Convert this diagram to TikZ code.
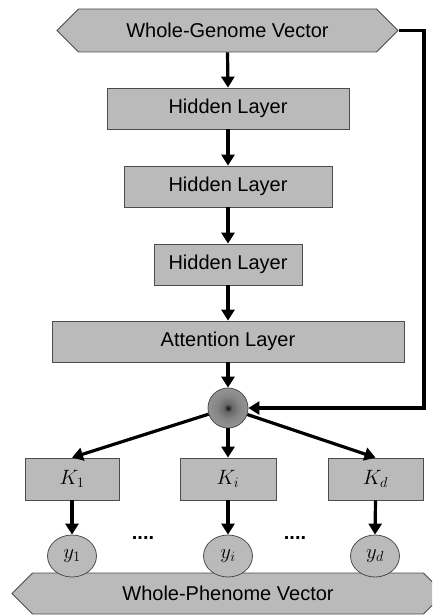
\documentclass[tikz,border=0pt]{standalone}
\usepackage{fontspec}
\setmainfont{Liberation Sans}
\usetikzlibrary{shapes.symbols,shapes.geometric,arrows.meta}
\pgfdeclareradialshading{ballshade}{\pgfpoint{0bp}{0bp}}{%
  color(0bp)=(black!95); color(5bp)=(black!60); color(14bp)=(black!48); color(25bp)=(black!42); color(50bp)=(black!42)}
\begin{document}
\begin{tikzpicture}[x=1pt,y=-1pt,
  box/.style={draw=black!70,line width=0.8pt,fill=black!27,rectangle,inner sep=0pt,
    font=\fontsize{20}{24}\selectfont,minimum height=41pt},
  kbox/.style={draw=black!70,line width=0.8pt,fill=black!27,rectangle,inner sep=0pt,
    font=\fontsize{20.74}{24}\selectfont,minimum height=42pt},
  yell/.style={draw=black!70,line width=0.8pt,fill=black!27,ellipse,inner sep=0pt,
    font=\fontsize{20.74}{24}\selectfont,minimum width=49pt,minimum height=42pt},
  sig/.style={draw=black!70,line width=0.8pt,fill=black!27,signal,signal to=west and east,
    signal pointer angle=90,inner sep=0pt,font=\fontsize{20}{24}\selectfont},
  arr/.style={line width=3.2pt,-{Triangle[length=11pt,width=13pt]}},
  dots/.style={font=\fontsize{20}{24}\selectfont\bfseries}
]
\useasboundingbox (0,0) rectangle (432,615);
\begin{scope}
\clip (0,0) rectangle (432,615);
\node[sig,minimum width=341pt,minimum height=43pt] (genome) at (227.5,30.5) {Whole-Genome Vector};
\node[box,minimum width=242pt] (h1) at (228,108.5) {Hidden Layer};
\node[box,minimum width=208pt] (h2) at (228,186.5) {Hidden Layer};
\node[box,minimum width=148pt] (h3) at (228,264.5) {Hidden Layer};
\node[box,minimum width=352pt] (att) at (228,341.5) {Attention Layer};
\node[circle,draw=black!70,line width=0.8pt,minimum size=40pt,inner sep=0pt,
  shading=ballshade] (c) at (228,408) {};
\node[kbox,minimum width=94pt] (k1) at (72,479) {$K_1$};
\node[kbox,minimum width=96pt] (ki) at (228,479) {$K_i$};
\node[kbox,minimum width=95pt] (kd) at (375.5,479) {$K_d$};
\node[sig,minimum width=432pt,minimum height=41pt] (pheno) at (228,593.5) {Whole-Phenome Vector};
\node[yell] (y1) at (72,556) {$y_1$};
\node[yell] (yi) at (228,556) {$y_i$};
\node[yell] (yd) at (375,556) {$y_d$};
\node[dots] (d1) at (143,538) {....};
\node[dots] (d2) at (295,538) {....};
\end{scope}
\coordinate (r1) at (424,30.5);
\coordinate (r2) at (424,408);
\draw[arr] (genome.south) -- (h1.north);
\draw[arr] (h1.south) -- (h2.north);
\draw[arr] (h2.south) -- (h3.north);
\draw[arr] (h3.south) -- (att.north);
\draw[arr] (att.south) -- (c.north);
\draw[arr] (genome.east) -- (r1) -- (r2) -- (c.east);
\draw[arr] (c) -- (k1.north);
\draw[arr] (c.south) -- (ki.north);
\draw[arr] (c) -- (kd.north);
\draw[arr] (k1.south) -- (y1.north);
\draw[arr] (ki.south) -- (yi.north);
\draw[arr] (kd.south) -- (yd.north);
\end{tikzpicture}
\end{document}
